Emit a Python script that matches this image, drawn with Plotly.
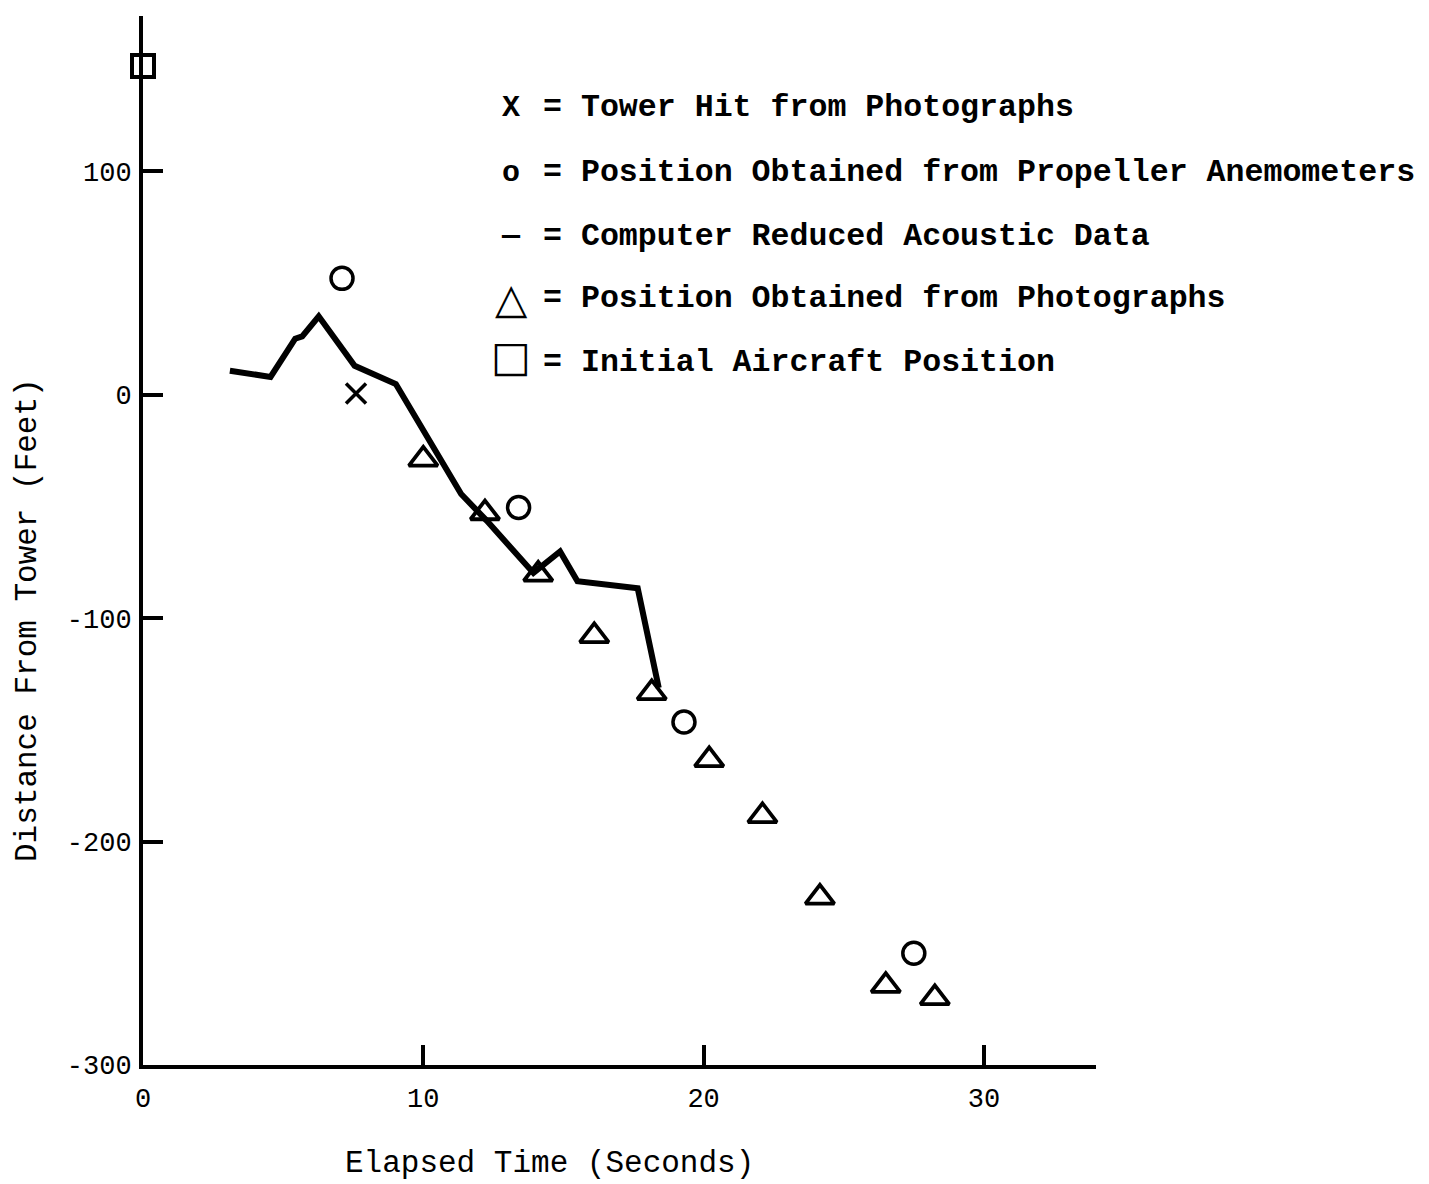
import plotly.graph_objects as go

# ---- data ----
acoustic_t = [3.1, 4.55, 5.43, 5.68, 6.27, 7.55, 9.02, 11.35, 12.26, 13.93, 14.88, 15.5, 17.65, 18.4]
acoustic_d = [10.7, 7.9, 25.0, 26.0, 35.0, 12.9, 4.7, -44.5, -56.4, -79.8, -70.2, -83.5, -86.7, -131.3]

photo_t = [10.0, 12.2, 14.1, 16.1, 18.15, 20.2, 22.1, 24.15, 26.5, 28.25]
photo_d = [-29, -53, -80.5, -108, -133.5, -163.5, -188.5, -225, -264.5, -270]

anemo_t = [7.1, 13.4, 19.3, 27.5]
anemo_d = [52, -50.5, -146.5, -250]

hit_t = [7.6]
hit_d = [0.5]

init_t = [0]
init_d = [147]

x_ticks = [0, 10, 20, 30]
y_ticks = [-300, -200, -100, 0, 100]

legend_items = [
    ("X", "= Tower Hit from Photographs"),
    ("o", "= Position Obtained from Propeller Anemometers"),
    ("\u2014", "= Computer Reduced Acoustic Data"),
    ("\u25B3", "= Position Obtained from Photographs"),
    ("\u25A1", "= Initial Aircraft Position"),
]

# ---- layout geometry ----
W, H = 1429, 1184
L, T = 143, 16
PW, PH = 953, 1049
R = W - L - PW
B = H - T - PH

def px(x):
    return (x - L) / PW

def py(y):
    return (T + PH - y) / PH

MONO = "Liberation Mono"
blk = "black"

fig = go.Figure()

fig.add_trace(go.Scatter(x=acoustic_t, y=acoustic_d, mode="lines",
                         line=dict(color=blk, width=6), hoverinfo="skip"))
fig.add_trace(go.Scatter(x=photo_t, y=photo_d, mode="markers",
                         marker=dict(symbol="triangle-up-open", size=25, color=blk,
                                     line=dict(color=blk, width=3.8))))
fig.add_trace(go.Scatter(x=anemo_t, y=anemo_d, mode="markers",
                         marker=dict(symbol="circle-open", size=22, color=blk,
                                     line=dict(color=blk, width=3.5))))
fig.add_trace(go.Scatter(x=hit_t, y=hit_d, mode="markers",
                         marker=dict(symbol="x-thin-open", size=20, color=blk,
                                     line=dict(color=blk, width=3.5))))
fig.add_trace(go.Scatter(x=init_t, y=init_d, mode="markers", cliponaxis=False,
                         marker=dict(symbol="square", size=22, color="white",
                                     line=dict(color=blk, width=4))))

annotations = []
row_y = [108, 173, 236, 299, 362]
sym_y = [108, 173, 236, 299, 356]
for (sym, txt), yy, sy in zip(legend_items, row_y, sym_y):
    if sym in ("\u25B3", "\u25A1"):
        annotations.append(dict(x=px(511), y=py(sy), xref="paper", yref="paper",
                                text=sym, showarrow=False, xanchor="center", yanchor="middle",
                                font=dict(family="DejaVu Sans", size=42, color=blk)))
    else:
        annotations.append(dict(x=px(511), y=py(yy), xref="paper", yref="paper",
                                text="<b>" + sym + "</b>", showarrow=False,
                                xanchor="center", yanchor="middle",
                                font=dict(family=MONO, size=30, color=blk)))
    annotations.append(dict(x=px(541), y=py(yy), xref="paper", yref="paper",
                            text="<b>" + txt + "</b>", showarrow=False,
                            xanchor="left", yanchor="middle",
                            font=dict(family=MONO, size=31.6, color=blk)))

annotations.append(dict(x=px(549), y=py(1163), xref="paper", yref="paper",
                        text="Elapsed Time (Seconds)", showarrow=False,
                        xanchor="center", yanchor="middle",
                        font=dict(family=MONO, size=31, color=blk)))
annotations.append(dict(x=px(28), y=py(620), xref="paper", yref="paper",
                        text="Distance From Tower (Feet)", showarrow=False, textangle=-90,
                        xanchor="center", yanchor="middle",
                        font=dict(family=MONO, size=31, color=blk)))

fig.update_layout(
    width=W, height=H,
    margin=dict(l=L, r=R, t=T, b=B, pad=0),
    paper_bgcolor="white", plot_bgcolor="white",
    showlegend=False,
    annotations=annotations,
    xaxis=dict(range=[0, 34.0], tickvals=x_ticks, ticktext=[str(v) for v in x_ticks],
               showline=True, linecolor=blk, linewidth=4, mirror=False,
               ticks="inside", ticklen=20, tickwidth=4, tickcolor=blk,
               showgrid=False, zeroline=False, ticklabelstandoff=6,
               tickfont=dict(family=MONO, size=27, color=blk)),
    yaxis=dict(range=[-300, 169.4], tickvals=y_ticks, ticktext=[str(v) for v in y_ticks],
               showline=True, linecolor=blk, linewidth=4, mirror=False,
               ticks="inside", ticklen=20, tickwidth=4, tickcolor=blk,
               showgrid=False, zeroline=False, ticklabelstandoff=2,
               tickfont=dict(family=MONO, size=27, color=blk)),
)

fig.write_html("out.html")
